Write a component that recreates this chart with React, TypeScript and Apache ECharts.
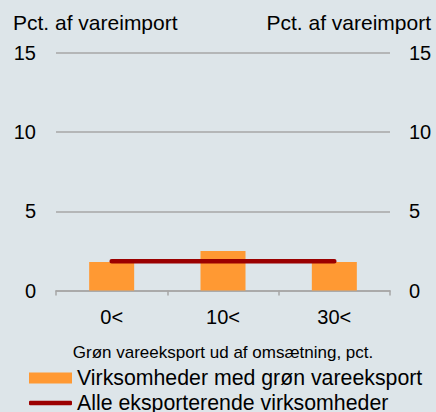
import React, { useEffect, useRef } from "react";
import * as echarts from "echarts";

const categories = ["0<", "10<", "30<"];
const greenExporters = [1.8, 2.5, 1.8];
const allExporters = [1.85, 1.85, 1.85];
const yTicks = { min: 0, max: 15, interval: 5 };
const axisTitle = "Pct. af vareimport";
const xTitle = "Grøn vareeksport ud af omsætning, pct.";
const seriesNames = ["Virksomheder med grøn vareeksport", "Alle eksporterende virksomheder"];

export default function App() {
  const ref = useRef<HTMLDivElement>(null);
  useEffect(() => {
    if (!ref.current) return;
    const chart = echarts.init(ref.current, undefined, { renderer: "svg" });
    const font = "Liberation Sans, Arial, sans-serif";
    const legendBase = {
      orient: "horizontal",
      left: 29,
      padding: 0,
      itemWidth: 43,
      textStyle: { fontSize: 21.3, color: "#000", fontFamily: font, lineHeight: 21 },
    };
    chart.setOption({
      animation: false,
      backgroundColor: "#dde5e9",
      textStyle: { fontFamily: font, color: "#000" },
      grid: { left: 56, right: 46, top: 53, bottom: 121.5 },
      graphic: [
        { type: "text", left: 13, top: 12, style: { text: axisTitle, font: `21px ${font}`, fill: "#000" } },
        { type: "text", right: 5, top: 12, style: { text: axisTitle, font: `21px ${font}`, fill: "#000" } },
      ],
      xAxis: {
        type: "category",
        data: categories,
        name: xTitle,
        nameLocation: "middle",
        nameGap: 53,
        nameTextStyle: { fontSize: 17, color: "#000", fontFamily: font },
        axisLine: { lineStyle: { color: "#a6a6a6", width: 1.5 } },
        axisTick: { show: true, length: 5, lineStyle: { color: "#a6a6a6", width: 1.5 } },
        axisLabel: { fontSize: 20, color: "#000", margin: 16, fontFamily: font },
      },
      yAxis: [
        {
          type: "value",
          ...yTicks,
          position: "left",
          axisLine: { show: false },
          axisTick: { show: false },
          axisLabel: { fontSize: 20, color: "#000", margin: 20, fontFamily: font },
          splitLine: { lineStyle: { color: "#a6a6a6", width: 1.5 } },
        },
        {
          type: "value",
          ...yTicks,
          position: "right",
          axisLine: { show: false },
          axisTick: { show: false },
          axisLabel: { fontSize: 20, color: "#000", margin: 19, fontFamily: font },
          splitLine: { show: false },
        },
      ],
      legend: [
        { ...legendBase, top: 367.5, itemHeight: 11, data: [{ name: seriesNames[0], icon: "rect" }] },
        { ...legendBase, top: 392.5, itemHeight: 4.5, data: [{ name: seriesNames[1], icon: "roundRect" }] },
      ],
      series: [
        {
          name: seriesNames[0],
          type: "bar",
          data: greenExporters,
          barWidth: 45,
          itemStyle: { color: "#ff9933" },
        },
        {
          name: seriesNames[1],
          type: "line",
          data: allExporters,
          symbol: "none",
          lineStyle: { color: "#9b0000", width: 4.5, cap: "round" },
          itemStyle: { color: "#9b0000" },
        },
      ],
    });
    return () => chart.dispose();
  }, []);
  return (
    <div
      ref={ref}
      style={{ position: "fixed", left: 0, top: 0, width: 436, height: 412 }}
    />
  );
}
